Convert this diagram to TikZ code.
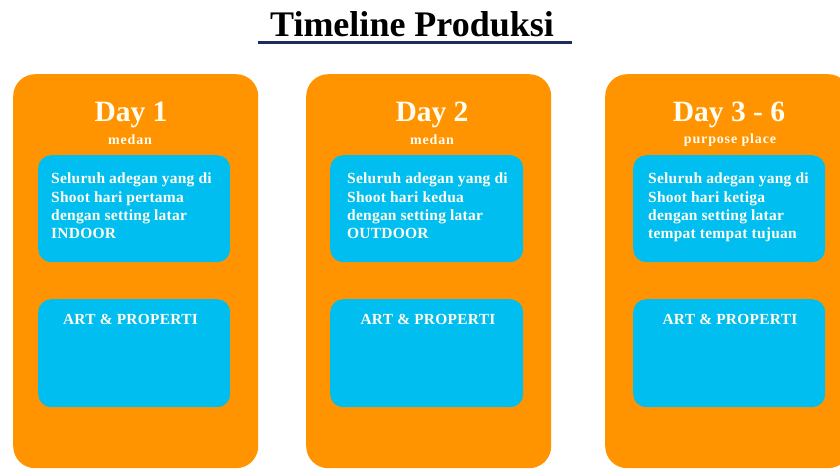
\documentclass[tikz,border=0pt]{standalone}
\usepackage{fontspec}
\setmainfont{Liberation Serif}
\newfontfamily\bodyfont[LetterSpace=1.5]{Liberation Serif}
\newfontfamily\spacedfont[LetterSpace=6]{Liberation Serif}
\newfontfamily\artfont[LetterSpace=2]{Liberation Serif}
\definecolor{panelorange}{RGB}{255,148,0}
\definecolor{cardblue}{RGB}{0,190,240}
\definecolor{navyline}{RGB}{31,42,94}
\definecolor{textwhite}{RGB}{255,253,242}
\tikzset{
  panel/.style={rectangle, fill=panelorange, draw=none, rounded corners=22pt, anchor=north west, minimum width=245pt, minimum height=394pt, inner sep=0pt},
  card/.style={rectangle, fill=cardblue, draw=none, rounded corners=13pt, anchor=north west, minimum width=192pt, inner sep=0pt},
  daytitle/.style={anchor=base, inner sep=0pt, text=textwhite, font=\bfseries\fontsize{29.5}{32}\selectfont},
  placetext/.style={anchor=base, inner sep=0pt, text=textwhite, font=\spacedfont\bfseries\fontsize{14}{16}\selectfont},
  bodytext/.style={anchor=base west, inner sep=0pt, align=left, text=textwhite, font=\bodyfont\bfseries\fontsize{15.5}{18.4}\selectfont},
  arttext/.style={anchor=base, inner sep=0pt, text=textwhite, font=\artfont\bfseries\fontsize{15.4}{17}\selectfont},
  titletext/.style={anchor=base, inner sep=0pt, text=black, font=\bfseries\fontsize{36}{40}\selectfont},
  underline/.style={draw=navyline, line width=3pt}
}
\begin{document}
\begin{tikzpicture}[x=1pt,y=-1pt]
\clip (0,0) rectangle (840,470);
\fill[white] (0,0) rectangle (840,470);

% title
\node[titletext] (title) at (412,37) {Timeline Produksi};
\coordinate (ulA) at (258,43);
\coordinate (ulB) at (572,43);
\draw[underline] (ulA) -- (ulB);

% panels
\node[panel] (p1) at (13,74) {};
\node[panel] (p2) at (306,74) {};
\node[panel] (p3) at (605,74) {};

% top cards
\node[card, minimum height=107pt] (c1) at (38,155) {};
\node[card, minimum height=107pt, minimum width=193pt] (c2) at (330,155) {};
\node[card, minimum height=107pt] (c3) at (633,155) {};

% bottom cards
\node[card, minimum height=108pt] (b1) at (38,299) {};
\node[card, minimum height=108pt, minimum width=193pt] (b2) at (330,299) {};
\node[card, minimum height=108pt] (b3) at (633,299) {};

% day titles
\node[daytitle] (d1) at (131,122) {Day 1};
\node[daytitle] (d2) at (432,122) {Day 2};
\node[daytitle] (d3) at (729,122) {Day 3 - 6};

% places
\node[placetext] (m1) at (130,145) {medan};
\node[placetext] (m2) at (432,145) {medan};
\node[placetext] (m3) at (730,144) {purpose place};

% body texts (anchored at the baseline of the last line)
\node[bodytext] (t1) at (51,239) {Seluruh adegan yang di\\Shoot hari pertama\\dengan setting latar\\INDOOR};
\node[bodytext] (t2) at (347,239) {Seluruh adegan yang di\\Shoot hari kedua\\dengan setting latar\\OUTDOOR};
\node[bodytext] (t3) at (648,239) {Seluruh adegan yang di\\Shoot hari ketiga\\dengan setting latar\\tempat tempat tujuan};

% art labels
\node[arttext] (a1) at (130.5,324) {ART \& PROPERTI};
\node[arttext] (a2) at (428,324) {ART \& PROPERTI};
\node[arttext] (a3) at (730,324) {ART \& PROPERTI};
\end{tikzpicture}
\end{document}
